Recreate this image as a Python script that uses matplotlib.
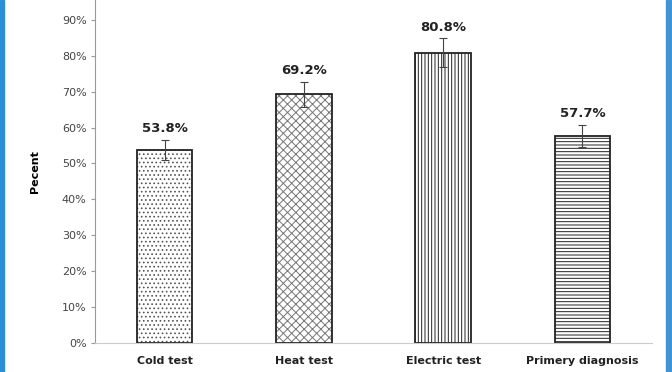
"""Bar chart of test positivity rates with hatched bars."""

import matplotlib.pyplot as plt
from matplotlib.patches import Rectangle

categories = ["Cold test", "Heat test", "Electric test", "Primery diagnosis"]
values = [0.538, 0.692, 0.808, 0.577]
errors = [0.028, 0.035, 0.04, 0.03]
hatches = ["....", "xxxx", "|||||", "-----"]
hatch_colors = ["#555555", "#777777", "#222222", "#222222"]
yticks = [0.0, 0.1, 0.2, 0.3, 0.4, 0.5, 0.6, 0.7, 0.8, 0.9]

plt.rcParams["hatch.linewidth"] = 0.7
plt.rcParams["font.family"] = ["DejaVu Sans"]

fig = plt.figure(figsize=(6.72, 3.72), dpi=100)
ax = fig.add_axes([95 / 672, 29 / 372, 557 / 672, 343 / 372])

x = list(range(len(categories)))
for i, (v, h, hc) in enumerate(zip(values, hatches, hatch_colors)):
    ax.bar(i, v, width=0.4, color="white", edgecolor=hc, hatch=h, linewidth=0)
    ax.bar(i, v, width=0.4, fill=False, edgecolor="#222222", linewidth=1.3)

ax.errorbar(x, values, yerr=errors, fmt="none", ecolor="#444444",
            elinewidth=0.8, capsize=3, capthick=0.8)

for i, (v, e) in enumerate(zip(values, errors)):
    ax.text(i, v + e + 0.013, f"{v * 100:.1f}%", ha="center", va="bottom",
            fontsize=9.5, fontweight="bold", color="#222222")

ax.set_xlim(-0.5, 3.5)
ax.set_ylim(0, 0.955)
ax.set_yticks(yticks)
ax.set_yticklabels([f"{int(round(t * 100))}%" for t in yticks],
                   fontsize=8, color="#444444")
ax.set_xticks(x)
ax.set_xticklabels(categories, fontsize=8, fontweight="bold", color="#222222")
ax.tick_params(axis="x", length=0, pad=9)
ax.tick_params(axis="y", length=3, color="#999999", pad=3)
ax.set_ylabel("Pecent", fontsize=8, fontweight="bold", labelpad=16)

for side in ["top", "right"]:
    ax.spines[side].set_visible(False)
ax.spines["left"].set_color("#999999")
ax.spines["bottom"].set_color("#cccccc")

# blue frame strips at the figure edges
fig.patches.append(Rectangle((0, 0), 4 / 672, 1, transform=fig.transFigure,
                             color="#2a8fd6", zorder=5))
fig.patches.append(Rectangle((666 / 672, 0), 5 / 672, 1,
                             transform=fig.transFigure, color="#3f95d4",
                             zorder=5))

fig.savefig("out.png", dpi=100)
